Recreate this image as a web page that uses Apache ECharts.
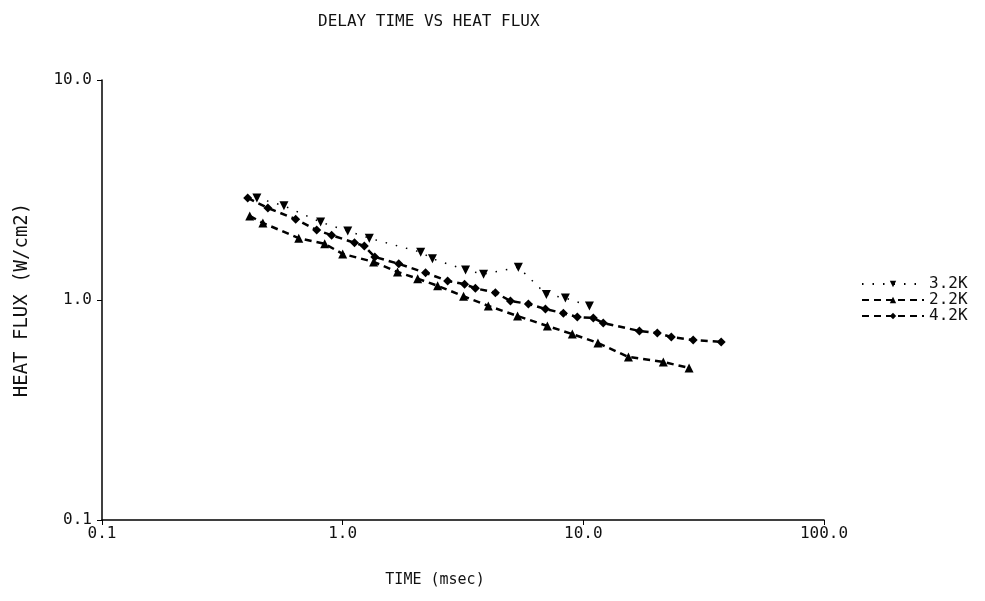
<!DOCTYPE html>
<html>
<head>
<meta charset="utf-8">
<script src="https://cdn.jsdelivr.net/npm/echarts@6/dist/echarts.min.js"></script>
<style>
html,body{margin:0;padding:0;background:#fff;}
#chart{width:985px;height:601px;}
</style>
</head>
<body>
<div id="chart"></div>
<script>
// Data (time in msec, heat flux in W/cm2)
var seriesNames = ['3.2K', '2.2K', '4.2K'];
var time32 = [0.44, 0.57, 0.81, 1.05, 1.29, 2.11, 2.36, 3.24, 3.85, 5.37, 7.02, 8.42, 10.6];
var flux32 = [2.91, 2.68, 2.26, 2.06, 1.91, 1.65, 1.54, 1.37, 1.31, 1.41, 1.06, 1.02, 0.94];
var time22 = [0.411, 0.466, 0.657, 0.842, 1.0, 1.345, 1.69, 2.05, 2.48, 3.18, 4.03, 5.33, 7.09, 9.0, 11.5, 15.4, 21.5, 27.5];
var flux22 = [2.41, 2.24, 1.91, 1.80, 1.62, 1.49, 1.34, 1.25, 1.16, 1.04, 0.94, 0.846, 0.762, 0.70, 0.638, 0.551, 0.523, 0.491];
var time42 = [0.403, 0.489, 0.638, 0.78, 0.90, 1.12, 1.23, 1.36, 1.71, 2.21, 2.73, 3.21, 3.56, 4.31, 4.98, 5.91, 6.96, 8.26, 9.44, 11.0, 12.1, 17.1, 20.3, 23.2, 28.6, 37.4];
var flux42 = [2.91, 2.62, 2.33, 2.08, 1.97, 1.82, 1.76, 1.57, 1.46, 1.33, 1.22, 1.18, 1.13, 1.08, 0.99, 0.96, 0.91, 0.87, 0.837, 0.828, 0.786, 0.723, 0.708, 0.679, 0.658, 0.645];
var xTickLabels = ['0.1', '1.0', '10.0', '100.0'];
var yTickLabels = ['0.1', '1.0', '10.0'];

function pairs(xs, ys) { return xs.map(function (x, i) { return [x, ys[i]]; }); }
function tickLabel(list, v) {
  var idx = Math.round(Math.log10(v) + 1);
  return list[idx] !== undefined ? list[idx] : '';
}

var FONT = 'DejaVu Sans Mono';
var chart = echarts.init(document.getElementById('chart'), null, {renderer: 'canvas'});
chart.setOption({
  backgroundColor: '#ffffff',
  animation: false,
  title: {
    text: 'DELAY TIME VS HEAT FLUX',
    left: 313, top: 9,
    textStyle: {fontFamily: FONT, fontSize: 16, fontWeight: 'normal', color: '#111'}
  },
  legend: {
    orient: 'vertical',
    left: 856, top: 271,
    itemWidth: 62, itemHeight: 8, itemGap: 0,
    textStyle: {fontFamily: FONT, fontSize: 16, color: '#111'},
    data: seriesNames
  },
  grid: {left: 102, right: 161, top: 80, bottom: 81, containLabel: false},
  xAxis: {
    type: 'log', logBase: 10, min: 0.1, max: 100,
    name: 'TIME (msec)', nameLocation: 'middle', nameGap: 53,
    nameTextStyle: {fontFamily: FONT, fontSize: 15, color: '#111', padding: [0, 56, 0, 0]},
    axisLine: {lineStyle: {color: '#000', width: 1.5}},
    axisTick: {show: true, length: 5, lineStyle: {color: '#000'}},
    minorTick: {show: false},
    splitLine: {show: false},
    axisLabel: {
      fontFamily: FONT, fontSize: 16, color: '#111', margin: 6,
      formatter: function (v) { return tickLabel(xTickLabels, v); }
    }
  },
  yAxis: {
    type: 'log', logBase: 10, min: 0.1, max: 10,
    name: 'HEAT FLUX (W/cm2)', nameLocation: 'middle', nameGap: 70, nameRotate: 90,
    nameTextStyle: {fontFamily: FONT, fontSize: 19, color: '#111'},
    axisLine: {show: true, lineStyle: {color: '#000', width: 1.5}},
    axisTick: {show: true, length: 5, lineStyle: {color: '#000'}},
    splitLine: {show: false},
    axisLabel: {
      fontFamily: FONT, fontSize: 16, color: '#111', margin: 10,
      formatter: function (v) { return tickLabel(yTickLabels, v); }
    }
  },
  series: [
    {
      name: '3.2K', type: 'line', data: pairs(time32, flux32),
      symbol: 'triangle', symbolRotate: 180, symbolSize: 9,
      itemStyle: {color: '#000'},
      lineStyle: {color: '#000', width: 1.5, type: [1.5, 9]}
    },
    {
      name: '2.2K', type: 'line', data: pairs(time22, flux22),
      symbol: 'triangle', symbolSize: 9,
      itemStyle: {color: '#000'},
      lineStyle: {color: '#000', width: 2.5, type: [7, 5]}
    },
    {
      name: '4.2K', type: 'line', data: pairs(time42, flux42),
      symbol: 'diamond', symbolSize: 9,
      itemStyle: {color: '#000'},
      lineStyle: {color: '#000', width: 2.5, type: [7, 5]}
    }
  ]
});
</script>
</body>
</html>
